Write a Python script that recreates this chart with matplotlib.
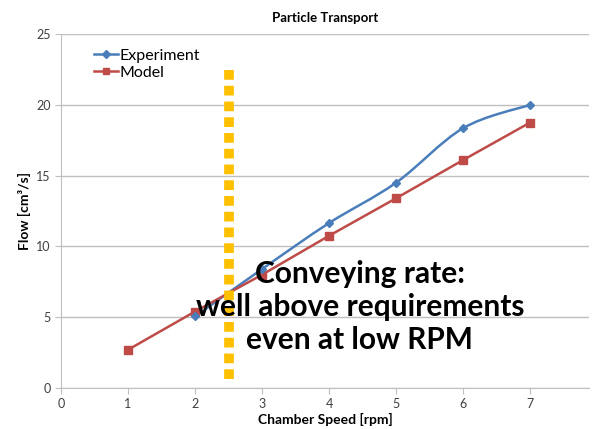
import numpy as np
import matplotlib.pyplot as plt
from matplotlib.path import Path
from matplotlib.patches import PathPatch
from matplotlib.lines import Line2D

speed_exp = [2, 3, 4, 5, 6, 7]
flow_exp = [5.05, 8.4, 11.65, 14.5, 18.35, 20.0]
speed_model = [1, 2, 3, 4, 5, 6, 7]
flow_model = [2.7, 5.4, 8.0, 10.75, 13.4, 16.1, 18.75]
marker_x = 2.5
marker_y = (0.6, 22.85)

blue = '#4A7EBB'
red = '#BE4B48'
gold = '#FFC000'

plt.rcParams['font.family'] = ['Lato', 'DejaVu Sans']

fig = plt.figure(figsize=(5.92, 4.29), dpi=100)
ax = fig.add_axes([0.103, 0.0956, 0.892, 0.825])


def smooth_path(x, y, t=1/6.):
    # Excel-like smoothed line: Catmull-Rom as cubic Bezier segments
    x = np.asarray(x, float)
    y = np.asarray(y, float)
    verts = [(x[0], y[0])]
    codes = [Path.MOVETO]
    n = len(x)
    for i in range(n - 1):
        p0 = (x[max(i - 1, 0)], y[max(i - 1, 0)])
        p1 = (x[i], y[i])
        p2 = (x[i + 1], y[i + 1])
        p3 = (x[min(i + 2, n - 1)], y[min(i + 2, n - 1)])
        c1 = (p1[0] + (p2[0] - p0[0]) * t, p1[1] + (p2[1] - p0[1]) * t)
        c2 = (p2[0] - (p3[0] - p1[0]) * t, p2[1] - (p3[1] - p1[1]) * t)
        verts += [c1, c2, p2]
        codes += [Path.CURVE4] * 3
    return Path(verts, codes)


ax.add_patch(PathPatch(smooth_path(speed_exp, flow_exp), fill=False,
                       edgecolor=blue, lw=1.8, zorder=3))
ax.plot(speed_exp, flow_exp, ls='none', marker='D', ms=4.5, color=blue, zorder=4)
ax.plot(speed_model, flow_model, color=red, lw=1.8, marker='s', ms=6, zorder=3)

ax.plot([marker_x, marker_x], marker_y, color=gold, lw=7, ls=(0, (1.0, 0.62)),
        solid_capstyle='butt', dash_capstyle='butt', zorder=5)

ax.set_xlim(0, 7.88)
ax.set_ylim(0, 25)
ax.set_xticks(range(0, 8))
ax.set_yticks(range(0, 26, 5))
ax.yaxis.grid(True, color='#BFBFBF', lw=1)
ax.set_axisbelow(True)
for s in ['top', 'right']:
    ax.spines[s].set_visible(False)
for s in ['left', 'bottom']:
    ax.spines[s].set_color('#BFBFBF')
ax.tick_params(colors='#BFBFBF', labelcolor='#404040', labelsize=9, length=4)

ax.set_title('Particle Transport', fontsize=9.5, fontweight='bold', pad=9)
ax.set_xlabel('Chamber Speed [rpm]', fontsize=10, fontweight='bold', labelpad=2)
ax.set_ylabel('Flow [cm³/s]', fontsize=10, fontweight='bold', labelpad=4)

handles = [Line2D([], [], color=blue, marker='D', ms=4, lw=1.8),
           Line2D([], [], color=red, marker='s', ms=5, lw=1.8)]
ax.legend(handles, ['Experiment', 'Model'], loc='upper left',
          bbox_to_anchor=(0.035, 1.0), frameon=False, fontsize=11.5,
          handlelength=1.5, handletextpad=0.1, labelspacing=0.2)

ax.text(4.46, 5.75, 'Conveying rate:\nwell above requirements\neven at low RPM',
        ha='center', va='center', fontsize=21.5, fontweight='bold',
        linespacing=1.22, zorder=6)

fig.savefig('out.png', dpi=100)
